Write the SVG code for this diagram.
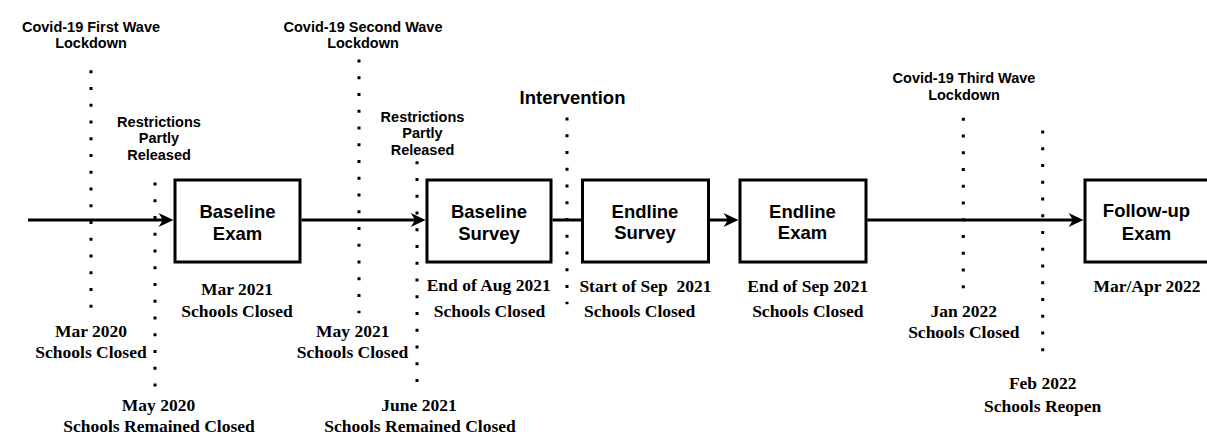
<svg xmlns="http://www.w3.org/2000/svg" width="1207" height="444" viewBox="0 0 1207 444">
<style>
.bg{fill:#ffffff}
.box{fill:#ffffff;stroke:#000000;stroke-width:3}
.bl{font-family:"Liberation Sans",Arial,sans-serif;font-weight:bold;font-size:18.5px;fill:#000;text-anchor:middle}
.s{font-family:"Liberation Sans",Arial,sans-serif;font-weight:bold;font-size:14.5px;fill:#000;text-anchor:middle}
.t{font-family:"Liberation Serif","Times New Roman",serif;font-weight:bold;font-size:17.5px;fill:#000;text-anchor:middle}
.dot{stroke:#000;stroke-width:3;stroke-dasharray:3 13.75;fill:none}
.conn{stroke:#000;stroke-width:3;fill:none}
</style>
<defs>
<marker id="arr" markerUnits="userSpaceOnUse" markerWidth="18" markerHeight="16" viewBox="-16 -8 18 16" refX="-10" refY="0" orient="auto">
<path d="M0,0 L-15,-7 L-10.5,0 L-15,7 Z" fill="#000"/>
</marker>
</defs>
<rect class="bg" x="0" y="0" width="1207" height="444"/>

<g id="events">
<g id="ev-first-wave">
<line class="dot" x1="91" y1="70.2" x2="91" y2="309"/>
<text class="s" x="91" y="31.5">Covid-19 First Wave</text>
<text class="s" x="91" y="47.5">Lockdown</text>
<text class="t" x="91" y="337">Mar 2020</text>
<text class="t" x="91" y="358">Schools Closed</text>
</g>
<g id="ev-restrictions-1">
<line class="dot" x1="155" y1="182.5" x2="155" y2="386.5"/>
<text class="s" x="159" y="127">Restrictions</text>
<text class="s" x="159" y="143">Partly</text>
<text class="s" x="159" y="159.5">Released</text>
<text class="t" x="158.5" y="411">May 2020</text>
<text class="t" x="159" y="431.5">Schools Remained Closed</text>
</g>
<g id="ev-second-wave">
<line class="dot" x1="359" y1="59.5" x2="359" y2="313.2"/>
<text class="s" x="363" y="31.5">Covid-19 Second Wave</text>
<text class="s" x="363" y="47.5">Lockdown</text>
<text class="t" x="352.7" y="336.7">May 2021</text>
<text class="t" x="352.5" y="358">Schools Closed</text>
</g>
<g id="ev-restrictions-2">
<line class="dot" x1="417" y1="161.2" x2="417" y2="382.2"/>
<text class="s" x="422.5" y="121.7">Restrictions</text>
<text class="s" x="422.5" y="138.3">Partly</text>
<text class="s" x="422.5" y="155">Released</text>
<text class="t" x="419" y="410.7">June 2021</text>
<text class="t" x="420" y="431.7">Schools Remained Closed</text>
</g>
<g id="ev-intervention">
<line class="dot" x1="567" y1="117.5" x2="567" y2="304.2"/>
<text class="bl" x="572.5" y="103.5">Intervention</text>
</g>
<g id="ev-third-wave">
<line class="dot" x1="963.3" y1="117.8" x2="963.3" y2="288.8"/>
<text class="s" x="964" y="83.3">Covid-19 Third Wave</text>
<text class="s" x="964" y="100">Lockdown</text>
<text class="t" x="963.7" y="316.7">Jan 2022</text>
<text class="t" x="963.8" y="338.3">Schools Closed</text>
</g>
<g id="ev-reopen">
<line class="dot" x1="1042.7" y1="130.5" x2="1042.7" y2="351.5"/>
<text class="t" x="1042.7" y="389.3">Feb 2022</text>
<text class="t" x="1042.7" y="411.7">Schools Reopen</text>
</g>
</g>

<g id="connectors">
<line class="conn" x1="28" y1="220" x2="163.5" y2="220" marker-end="url(#arr)"/>
<line class="conn" x1="301.5" y1="220" x2="415.7" y2="220" marker-end="url(#arr)"/>
<line class="conn" x1="552.5" y1="220" x2="581" y2="220"/>
<line class="conn" x1="709.8" y1="220" x2="728.5" y2="220" marker-end="url(#arr)"/>
<line class="conn" x1="867.2" y1="220" x2="1073.5" y2="220" marker-end="url(#arr)"/>
</g>

<g id="baseline-exam">
<rect class="box" x="175" y="180" width="125" height="82"/>
<text class="bl" x="237.5" y="218">Baseline</text>
<text class="bl" x="237.5" y="240">Exam</text>
<text class="t" x="237" y="295">Mar 2021</text>
<text class="t" x="237" y="316.5">Schools Closed</text>
</g>
<g id="baseline-survey">
<rect class="box" x="427" y="180" width="124" height="82"/>
<text class="bl" x="489" y="218">Baseline</text>
<text class="bl" x="489" y="240">Survey</text>
<text class="t" x="488.7" y="291">End of Aug 2021</text>
<text class="t" x="489.5" y="316.7">Schools Closed</text>
</g>
<g id="endline-survey">
<rect class="box" x="582.5" y="180" width="126" height="82"/>
<text class="bl" x="645" y="217.5">Endline</text>
<text class="bl" x="645" y="239">Survey</text>
<text class="t" x="645.5" y="291.5" style="white-space:pre">Start of Sep  2021</text>
<text class="t" x="639.7" y="316.5">Schools Closed</text>
</g>
<g id="endline-exam">
<rect class="box" x="740" y="180" width="126" height="82"/>
<text class="bl" x="802.5" y="217.5">Endline</text>
<text class="bl" x="802.5" y="239">Exam</text>
<text class="t" x="807.8" y="291.5">End of Sep 2021</text>
<text class="t" x="807.8" y="316.7">Schools Closed</text>
</g>
<g id="followup-exam">
<rect class="box" x="1085" y="180" width="125" height="82"/>
<text class="bl" x="1146.5" y="217">Follow-up</text>
<text class="bl" x="1146.5" y="240">Exam</text>
<text class="t" x="1147" y="291.7">Mar/Apr 2022</text>
</g>
</svg>
